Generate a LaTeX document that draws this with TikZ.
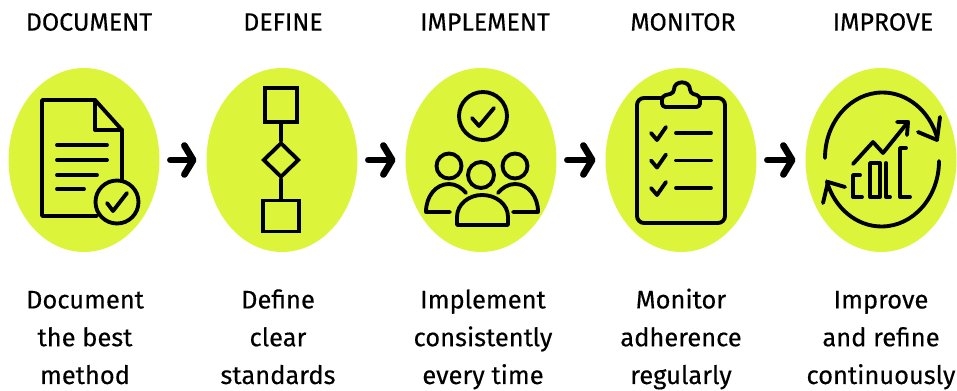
\documentclass[tikz,border=0pt]{standalone}
\usepackage{fontspec}
\setmainfont{Fira Sans}[FakeBold=0.3]
\usetikzlibrary{shapes.geometric,arrows.meta}
\definecolor{limefill}{HTML}{DCF53B}

\begin{document}
\begin{tikzpicture}[x=0.02cm,y=0.02cm]
        \tikzstyle{every node}+=[inner sep=0pt]
        \tikzstyle{blob}=[ellipse,fill=limefill,minimum width=3.02cm,minimum height=3.68cm]
        \tikzstyle{heading}=[font=\fontsize{14.2}{16}\selectfont]
        \tikzstyle{caption}=[anchor=base,align=center,font=\fontsize{14.5}{21.5}\selectfont]
        \tikzstyle{icon}=[black,line width=2.2pt,line join=round,line cap=round]
        \tikzstyle{flow}=[black,line width=3.8pt,line cap=round,-{Straight Barb[round,length=5pt,width=16.5pt]}]
        \tikzstyle{box}=[rectangle,draw=black,line width=2.2pt,minimum width=0.64cm,minimum height=0.68cm]
        \useasboundingbox (0,0) rectangle (957,-391);
        % circles
        \draw (84,-160) node [blob] (docblob) {};
        \draw (282,-160) node [blob] (defblob) {};
        \draw (481,-160) node [blob] (impblob) {};
        \draw (681,-160) node [blob] (monblob) {};
        \draw (881,-160) node [blob] (problob) {};
        \draw [flow,shorten <=6pt,shorten >=5.5pt] (docblob) -- (defblob);
        \draw [flow,shorten <=6pt,shorten >=5.5pt] (defblob) -- (impblob);
        \draw [flow,shorten <=6pt,shorten >=5.5pt] (impblob) -- (monblob);
        \draw [flow,shorten <=6pt,shorten >=5.5pt] (monblob) -- (problob);
        % titles
        \draw (89,-22) node [heading] (doctitle) {DOCUMENT};
        \draw (283,-22) node [heading] (deftitle) {DEFINE};
        \draw (485,-22) node [heading] (imptitle) {IMPLEMENT};
        \draw (683,-22) node [heading] (montitle) {MONITOR};
        \draw (883,-22) node [heading] (protitle) {IMPROVE};
        % captions
        \draw (85,-384) node [caption] (doctext) {Document\\the best\\method};
        \draw (278,-384) node [caption] (deftext) {Define\\clear\\standards};
        \draw (483,-384) node [caption] (imptext) {Implement\\consistently\\every time};
        \draw (681,-384) node [caption] (montext) {Monitor\\adherence\\regularly};
        \draw (881,-384) node [caption] (protext) {Improve\\and refine\\continuously};
        % document
        \draw [icon] (97,-216) -- (42,-216) -- (42,-100) -- (95,-100) -- (122,-130) -- (122,-180);
        \draw [icon] (95,-100) -- (95,-130) -- (122,-130);
        \draw [icon] (57,-145) -- (107,-145);
        \draw [icon] (57,-160) -- (107,-160);
        \draw [icon] (57,-175) -- (97,-175);
        \draw [icon] (57,-189) -- (84,-189);
        \draw [icon,fill=limefill] (117,-202) circle (21.5);
        \draw [icon] (107,-203) -- (113,-211) -- (127,-193);
        % flowchart
        \draw (281,-105) node [box] (topbox) {};
        \draw (281,-160) node [diamond,draw=black,line width=2.2pt,minimum width=0.72cm,minimum height=0.7cm] (gate) {};
        \draw (281,-216) node [box,minimum width=0.72cm,minimum height=0.62cm] (lowbox) {};
        \draw [icon] (topbox) -- (gate);
        \draw [icon] (gate) -- (lowbox);
        % people
        \draw [icon] (483,-116) circle (24);
        \draw [icon] (472,-118) -- (479,-126) -- (494,-108);
        \draw [icon] (481,-175) circle (13);
        \draw [icon] (449,-166) circle (12.5);
        \draw [icon] (515,-166) circle (12.5);
        \draw [icon] (457,-225) -- (457,-217) .. controls (457,-204) and (469,-195) .. (482,-195) .. controls (496,-195) and (508,-204) .. (508,-217) -- (508,-225) -- cycle;
        \draw [icon] (450,-212) -- (426,-212) .. controls (426,-196) and (436,-184) .. (449,-184) .. controls (456,-184) and (462,-188) .. (466,-193);
        \draw [icon] (513,-212) -- (538,-212) .. controls (538,-196) and (528,-184) .. (515,-184) .. controls (508,-184) and (502,-188) .. (498,-193);
        % clipboard
        \draw [icon,rounded corners=4pt] (662,-98) -- (637,-98) -- (637,-223) -- (725,-223) -- (725,-98) -- (700,-98);
        \draw [icon,rounded corners=2pt] (662,-107) -- (662,-96) -- (674,-93) .. controls (674,-80) and (690,-80) .. (690,-93) -- (700,-96) -- (700,-107) -- cycle;
        \foreach \rowy in {0,27.5,55} {
                \draw [icon] (651,-133-\rowy) -- (657,-140-\rowy) -- (666,-127-\rowy);
                \draw [icon] (676,-133-\rowy) -- (711,-133-\rowy);
        }
        % improve
        \draw [icon] (825,-158) arc (180:18:57.5 and 65.5);
        \draw [icon] (940,-117) -- (937,-140) -- (918,-132);
        \draw [icon] (939,-161) arc (0:-162:57.5 and 65.5);
        \draw [icon] (823,-203) -- (828,-182) -- (845,-187);
        \draw [icon] (853,-164) -- (873,-142) -- (883,-153) -- (908,-122);
        \draw [icon] (897,-122) -- (908,-122) -- (907,-135);
        \draw [icon] (860,-175) -- (853,-175) -- (853,-197) -- (862,-197);
        \draw [icon] (870,-197) -- (870,-163) -- (880,-163) -- (880,-197) -- cycle;
        \draw [icon] (886,-163) -- (886,-197) -- (890,-197);
        \draw [icon] (906,-148) -- (900,-148) -- (900,-197) -- (910,-197);
\end{tikzpicture}
\end{document}
